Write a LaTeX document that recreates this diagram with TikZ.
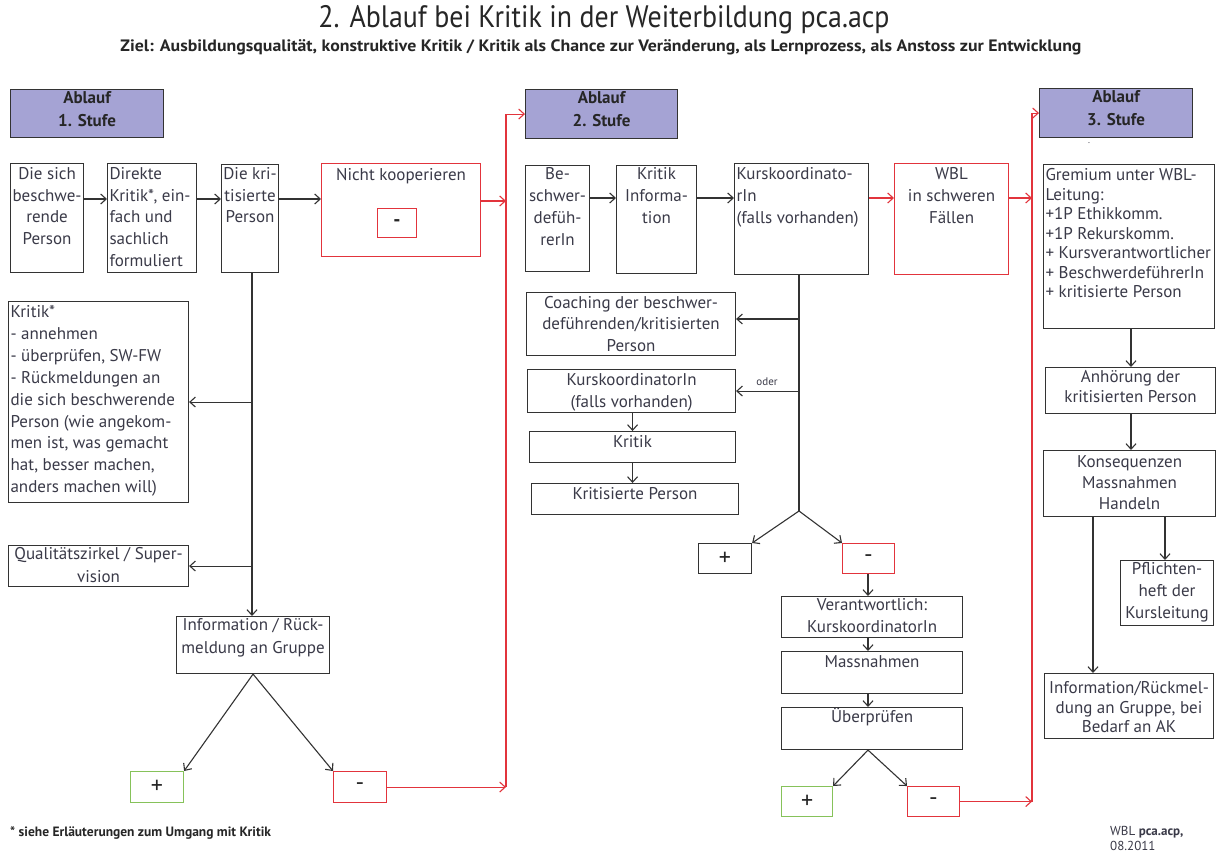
\documentclass[tikz,border=0pt]{standalone}
\usepackage{fontspec}
\usepackage{graphicx}
\setmainfont{PT Sans}
\newfontfamily\condf[FakeStretch=0.9]{PT Sans}
\newfontfamily\widef[FakeStretch=1.08]{PT Sans}
\usetikzlibrary{arrows.meta}
\definecolor{ink}{HTML}{333333}
\definecolor{txt}{HTML}{3A3A48}
\definecolor{redc}{HTML}{E2343C}
\definecolor{greenc}{HTML}{86C25A}
\definecolor{lav}{HTML}{A5A3D4}
% alignments that never break a line (lines may run a little wider than the box)
\newcommand\ctr{\centering\leftskip=-8pt plus 1fil\rightskip=-8pt plus 1fil\relax}
\newcommand\lft{\raggedright\leftskip=2pt\rightskip=-12pt plus 1fil\relax}
% #1 width, #2 height, #3 line spacing, #4 first baseline, #5 alignment, #6 text
\newcommand\bt[6]{\parbox[c][#2pt][t]{#1pt}{\fontsize{17pt}{#3pt}\selectfont#5\rule{0pt}{#4pt}#6}}
\tikzset{
  box/.style={draw=ink, line width=1.1pt, inner sep=0pt, anchor=north west, text=txt, fill=white},
  redbox/.style={box, draw=redc},
  headbox/.style={box, fill=lav, text=black!85},
  pmbox/.style={draw=ink, line width=1.1pt, inner sep=0pt, anchor=north west, text=black!85, fill=white,
     font=\fontsize{24pt}{24pt}\selectfont},
  conn/.style={draw=ink, line width=1.1pt, -{Straight Barb[length=5.5pt,width=10pt,line width=1.1pt]}},
  rconn/.style={conn, draw=redc},
  plain/.style={draw=ink, line width=1.1pt},
}
\begin{document}
\begin{tikzpicture}[x=1pt,y=-1pt]
\useasboundingbox (0,0) rectangle (1218,854);
\fill[white] (0,0) rectangle (1218,854);

% titles
\node[text=black!85, font=\condf\fontsize{31pt}{33pt}\selectfont, inner sep=0pt] (title) at (604,20) {2. Ablauf bei Kritik in der Weiterbildung pca.acp};
\node[text=black!85, font=\widef\bfseries\fontsize{16.5pt}{18pt}\selectfont, inner sep=0pt] (sub) at (601,47) {Ziel: Ausbildungsqualität, konstruktive Kritik / Kritik als Chance zur Veränderung, als Lernprozess, als Anstoss zur Entwicklung};

% helper coordinates
\coordinate (v0) at (252,0);
\coordinate (v1) at (506,0);
\coordinate (v2) at (1032,0);
\coordinate (vk) at (799,0);
\coordinate (vm) at (868,0);
\coordinate (k0) at (1131,0);
\coordinate (k1) at (1093,0);
\coordinate (k2) at (1165,0);
\coordinate (ya) at (0,199);
\coordinate (yb) at (0,198);
\coordinate (yc) at (0,201);
\coordinate (yd) at (0,319);
\coordinate (fork) at (799,511);

% ---------- column 1 ----------
\node[headbox] (s1h) at (10,89) {\bt{153}{48}{23}{14}{\ctr\bfseries}{Ablauf\\1. Stufe}};
\node[box] (c1a) at (10,163) {\bt{73}{109}{21.7}{16}{\ctr}{Die sich\\beschwe-\\rende\\Person}};
\node[box] (c1b) at (107,163) {\bt{89}{109}{21.7}{16}{\lft}{Direkte\\Kritik*, ein-\\fach und\\sachlich\\formuliert}};
\node[box] (c1c) at (221,164) {\bt{57}{108}{21.7}{15}{\ctr}{Die kri-\\tisierte\\Person}};
\node[redbox] (c1d) at (321,163) {\bt{159}{93}{21.7}{17}{\ctr}{Nicht kooperieren}};
\node[pmbox, draw=redc, minimum width=39pt, minimum height=29pt, font=\bfseries\fontsize{20pt}{20pt}\selectfont] (c1e) at (377,208) {-};
\node[box] (c1f) at (8,301) {\bt{180}{201}{21.9}{16}{\lft}{Kritik*\\- annehmen\\- überprüfen, SW-FW\\- Rückmeldungen an\\die sich beschwerende\\Person (wie angekom-\\men ist, was gemacht\\hat, besser machen,\\anders machen will)}};
\node[box] (c1g) at (8,545) {\bt{180}{41}{22.5}{14}{\ctr}{Qualitätszirkel / Super-\\vision}};
\node[box] (c1h) at (176,616) {\bt{153}{57}{23}{14}{\ctr}{Information / Rück-\\meldung an Gruppe}};
\node[pmbox, draw=greenc, minimum width=53pt, minimum height=31pt] (c1plus) at (130,771) {+};
\node[pmbox, draw=redc, minimum width=53pt, minimum height=31pt] (c1minus) at (333,771) {-};

\draw[conn] (c1a.east |- ya) -- (c1b.west |- ya);
\draw[conn] (c1b.east |- ya) -- (c1c.west |- ya);
\draw[conn] (c1c.east |- ya) -- (c1d.west |- ya);
\draw[rconn] (c1d.east |- yc) -- (v1 |- yc);
\draw[conn] (v0 |- c1c.south) -- (v0 |- c1h.north);
\draw[conn] (v0 |- c1f.east) -- (c1f.east);
\draw[conn] (v0 |- c1g.east) -- (c1g.east);
\draw[conn] (c1h.south) -- (c1plus.north east);
\draw[conn] (c1h.south) -- (c1minus.north west);
\draw[rconn] (c1minus.east) -- (v1 |- c1minus.east);

% ---------- column 2 ----------
\node[headbox] (s2h) at (525,89) {\bt{152}{49}{23}{14}{\ctr\bfseries}{Ablauf\\2. Stufe}};
\draw[rconn] (v1 |- c1minus.east) -- (v1 |- s2h.west) -- (s2h.west);
\node[box] (c2a) at (525,165) {\bt{64}{106}{22}{14}{\ctr}{Be-\\schwer-\\defüh-\\rerIn}};
\node[box] (c2b) at (616,165) {\bt{80}{108}{22}{14}{\ctr}{Kritik\\Informa-\\tion}};
\node[box] (c2c) at (734,163) {\bt{134}{111}{22}{16}{\lft}{Kurskoordinato-\\rIn\\(falls vorhanden)}};
\node[redbox] (c2d) at (894,163) {\bt{114}{111}{22}{16}{\ctr}{WBL\\in schweren\\Fällen}};
\node[box] (c2e) at (526,292) {\bt{209}{63}{21.3}{16}{\ctr}{Coaching der beschwer-\\deführenden/kritisierten\\Person}};
\node[box] (c2f) at (527,369) {\bt{208}{43}{22}{16}{\ctr}{KurskoordinatorIn\\(falls vorhanden)}};
\node[text=txt, font=\fontsize{11pt}{12pt}\selectfont, inner sep=0pt] (oder) at (767,382) {oder};
\node[box] (c2g) at (529,431) {\bt{206}{31}{22}{16}{\ctr}{Kritik}};
\node[box] (c2h) at (531,483) {\bt{207}{31}{22}{16}{\ctr}{Kritisierte Person}};
\node[pmbox, minimum width=53pt, minimum height=30pt] (c2plus) at (698,543) {+};
\node[pmbox, draw=redc, minimum width=52pt, minimum height=30pt] (c2minus) at (842,543) {-};
\node[box] (c2i) at (781,596) {\bt{181}{41}{22}{14}{\ctr}{Verantwortlich:\\KurskoordinatorIn}};
\node[box] (c2j) at (781,651) {\bt{181}{42}{22}{16}{\ctr}{Massnahmen}};
\node[box] (c2k) at (781,707) {\bt{181}{42}{22}{15}{\ctr}{Überprüfen}};
\node[pmbox, draw=greenc, minimum width=51pt, minimum height=30pt] (c2plus2) at (781,786) {+};
\node[pmbox, draw=redc, minimum width=52pt, minimum height=30pt] (c2minus2) at (907,786) {-};

\draw[conn] (c2a.east |- yb) -- (c2b.west |- yb);
\draw[conn] (c2b.east |- yb) -- (c2c.west |- yb);
\draw[rconn] (c2c.east |- yb) -- (c2d.west |- yb);
\draw[rconn] (c2d.east |- yb) -- (v2 |- yb);
\draw[plain] (vk |- c2c.south) -- (fork);
\draw[conn] (vk |- yd) -- (c2e.east |- yd);
\draw[conn] (vk |- c2f.east) -- (c2f.east);
\draw[conn] (c2g.north |- c2f.south) -- (c2g.north);
\draw[conn] (c2g.south) -- (c2g.south |- c2h.north);
\draw[conn] (fork) -- (c2plus.north east);
\draw[conn] (fork) -- (c2minus.north west);
\draw[conn] (vm |- c2minus.south) -- (vm |- c2i.north);
\draw[conn] (vm |- c2i.south) -- (vm |- c2j.north);
\draw[conn] (vm |- c2j.south) -- (vm |- c2k.north);
\draw[conn] (vm |- c2k.south) -- (c2plus2.north east);
\draw[conn] (vm |- c2k.south) -- (c2minus2.north west);
\draw[rconn] (c2minus2.east) -- (v2 |- c2minus2.east);

% ---------- column 3 ----------
\node[headbox] (s3h) at (1039,88) {\bt{153}{49}{23}{14}{\ctr\bfseries}{Ablauf\\3. Stufe}};
\draw[rconn] (v2 |- c2minus2.east) -- (v2 |- s3h.west) -- (s3h.west);
\node[text=txt, font=\fontsize{9pt}{9pt}\selectfont, inner sep=0pt] (dot) at (1089,143) {.};
\node[box] (c3a) at (1043,164) {\bt{171}{164}{19.5}{16}{\lft}{Gremium unter WBL-\\Leitung:\\+1P Ethikkomm.\\+1P Rekurskomm.\\+ Kursverantwortlicher\\+ BeschwerdeführerIn\\+ kritisierte Person}};
\node[box] (c3b) at (1045,367) {\bt{170}{46}{20}{15}{\ctr}{Anhörung der\\kritisierten Person}};
\node[box] (c3c) at (1043,450) {\bt{172}{66}{21}{17}{\ctr}{Konsequenzen\\Massnahmen\\Handeln}};
\node[box] (c3d) at (1120,560) {\bt{93}{65}{22}{14}{\ctr}{Pflichten-\\heft der\\Kursleitung}};
\node[box] (c3e) at (1044,673) {\bt{169}{65}{19.5}{20}{\ctr}{Information/Rückmel-\\dung an Gruppe, bei\\Bedarf an AK}};

\draw[conn] (k0 |- c3a.south) -- (k0 |- c3b.north);
\draw[conn] (k0 |- c3b.south) -- (k0 |- c3c.north);
\draw[conn] (k2 |- c3c.south) -- (k2 |- c3d.north);
\draw[conn] (k1 |- c3c.south) -- (k1 |- c3e.north);

% footer
\node[anchor=west, text=black!85, font=\bfseries\fontsize{13.5pt}{14pt}\selectfont, inner sep=0pt] (foot) at (10,833) {* siehe Erläuterungen zum Umgang mit Kritik};
\node[anchor=west, text=txt, font=\fontsize{13pt}{14pt}\selectfont, inner sep=0pt] (wbl) at (1110,832) {WBL \textbf{pca.acp,}};
\node[anchor=west, text=txt, font=\fontsize{13pt}{14pt}\selectfont, inner sep=0pt] (date) at (1110,846) {08.2011};
\end{tikzpicture}
\end{document}
